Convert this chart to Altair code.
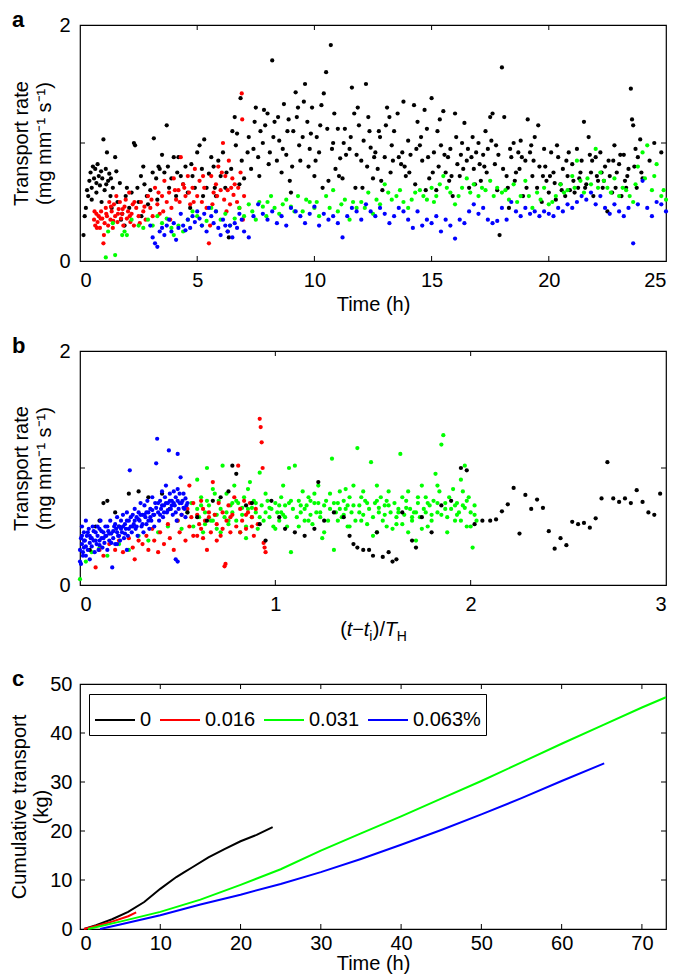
import altair as alt
import pandas as pd

FONT = "Liberation Sans, Arial"
FS = 20

SERIES = ["0", "0.016", "0.031", "0.063%"]
COLORS = ["#000000", "#ff0000", "#00ff00", "#0000ff"]
CMAP = dict(zip(SERIES, COLORS))

# ---------------- Panel a : transport rate vs time (h) ----------------
A_BLACK = [(0.15,0.22),(0.2,0.38),(0.25,0.45),(0.3,0.6),(0.35,0.55),(0.4,0.68),(0.45,0.75),(0.5,0.62),(0.55,0.8),(0.6,0.7),
(0.65,0.78),(0.7,0.66),(0.75,0.82),(0.8,0.72),(0.85,0.64),(0.9,0.76),(0.95,0.7),(1.0,1.03),(1.05,0.6),(1.1,0.78),
(1.15,0.92),(1.2,0.68),(1.25,0.74),(1.3,0.55),(1.35,0.45),(1.4,0.62),(1.5,0.88),(1.55,0.76),(1.6,0.5),(1.7,0.66),
(1.75,0.35),(1.8,0.4),(1.9,0.3),(1.95,0.55),(2.0,0.62),(2.1,0.45),(2.2,0.58),(2.3,1.0),(2.35,0.98),(2.45,0.62),
(2.5,0.5),(2.6,0.72),(2.7,0.8),(2.75,0.65),(2.85,0.55),(2.9,0.48),(3.0,0.6),(3.1,0.75),(3.15,1.04),(3.25,0.7),
(3.3,0.52),(3.4,0.78),(3.5,0.9),(3.6,0.75),(3.7,1.15),(3.75,0.8),(3.8,0.62),(3.9,0.7),(4.0,0.88),(4.1,0.55),
(4.2,0.88),(4.3,0.72),(4.4,0.65),(4.5,0.8),(4.6,0.58),(4.7,0.45),(4.8,0.72),(4.9,0.62),(5.0,0.92),(5.1,0.98),
(5.2,0.78),(5.3,1.03),(5.4,0.62),(5.5,0.74),(5.6,0.88),(5.7,0.8),(5.8,0.55),(5.9,0.85),(6.0,0.72),(6.1,0.92),
(6.2,0.62),(6.3,0.25),(6.35,0.2),(6.45,0.78),(6.5,1.1),(6.6,1.22),(6.65,0.98),(6.7,1.08),(6.8,0.65),(6.85,1.38),
(6.9,0.85),(7.0,0.7),(7.2,1.05),(7.4,0.95),(7.5,1.3),(7.6,0.88),(7.7,1.1),(7.8,1.0),(8.0,1.25),(8.1,0.92),
(8.2,1.7),(8.3,1.18),(8.5,1.02),(8.6,0.75),(8.7,1.33),(8.8,0.9),(8.9,1.2),(9.0,0.58),(9.1,1.1),(9.2,1.43),
(9.3,1.3),(9.4,0.85),(9.5,1.05),(9.6,1.5),(9.7,1.18),(9.8,0.95),(9.9,1.3),(10.0,0.72),(10.1,1.05),(10.2,0.92),
(10.3,1.32),(10.4,1.42),(10.5,1.6),(10.6,0.68),(10.7,1.83),(10.8,1.0),(10.9,0.78),(11.0,1.12),(11.1,0.87),(11.2,0.7),
(11.3,1.12),(11.5,0.95),(11.6,1.47),(11.7,1.25),(11.8,0.9),(11.9,1.15),(12.0,0.85),(12.1,1.02),(12.2,1.5),(12.3,1.22),
(12.4,0.96),(12.5,0.7),(12.6,0.92),(12.7,0.78),(12.8,1.05),(12.9,0.6),(13.0,0.88),(13.1,1.3),(13.2,1.22),(13.3,0.98),
(13.4,1.1),(13.6,0.88),(13.7,0.82),(13.8,1.35),(13.9,0.72),(14.0,1.02),(14.1,0.9),(14.3,0.65),(14.4,1.18),(14.5,0.98),
(14.6,0.85),(14.7,1.28),(14.8,1.12),(14.9,0.7),(15.0,1.38),(15.1,0.92),(15.2,0.6),(15.3,0.8),(15.4,0.98),(15.5,1.27),
(15.6,0.75),(15.7,0.88),(15.8,0.95),(15.9,0.55),(16.0,1.25),(16.1,0.82),(16.2,0.72),(16.3,1.0),(16.4,1.17),(16.5,0.85),
(16.6,0.62),(16.7,0.88),(16.8,0.78),(16.9,0.92),(17.0,1.0),(17.1,0.68),(17.2,0.9),(17.3,1.1),(17.4,0.95),(17.5,1.22),
(17.6,1.25),(17.7,0.82),(17.8,0.6),(17.9,0.22),(18.0,1.64),(18.1,1.22),(18.2,0.72),(18.3,0.45),(18.4,0.88),(18.5,1.0),
(18.6,0.75),(18.7,0.92),(18.8,1.02),(18.9,0.55),(19.0,0.85),(19.1,1.2),(19.2,0.92),(19.3,0.72),(19.4,1.05),(19.5,0.62),
(19.6,0.8),(19.7,0.5),(19.8,0.95),(19.9,0.68),(20.0,0.58),(20.1,0.92),(20.2,0.75),(20.3,0.52),(20.4,0.88),(20.5,0.65),
(20.6,0.78),(20.7,0.55),(20.8,0.72),(20.9,0.6),(21.0,0.82),(21.1,0.58),(21.2,0.95),(21.3,0.7),(21.4,0.85),(21.5,1.18),
(21.6,0.65),(21.7,1.05),(21.8,0.75),(21.9,0.55),(22.0,0.88),(22.1,0.68),(22.2,0.92),(22.3,0.62),(22.4,0.8),(22.5,0.42),
(22.6,0.72),(22.7,0.58),(22.8,0.98),(22.9,0.75),(23.0,0.82),(23.1,0.55),(23.2,0.9),(23.3,0.62),(23.4,0.78),(23.5,1.46),
(23.55,1.2),(23.6,1.15),(23.7,0.95),(23.8,0.88),(23.9,1.03),(24.0,0.7)]
A_BLACK_MORE = [(7.3,0.78),(7.9,1.15),(8.4,0.85),(8.95,0.68),(9.25,1.22),(9.75,0.8),(10.25,1.15),(10.75,0.95),(11.25,1.0),
(11.75,0.62),(12.25,0.8),(12.75,1.1),(13.25,0.75),(13.75,0.92),(14.25,1.32),(14.75,0.6),(15.25,1.1),(15.75,0.68),
(16.25,0.9),(16.75,1.05),(17.25,0.8),(17.75,0.98),(18.25,0.62),(18.75,0.78),(19.25,0.98),(19.75,0.72),(20.25,0.66),
(20.75,0.85),(21.25,0.62),(21.75,0.9),(22.25,0.75),(22.75,0.85),(23.25,0.68),(23.75,0.62),(24.5,1.0),(24.8,0.92),
(0.5,0.52),(0.7,0.58),(0.92,0.5),(1.12,0.65),(1.32,0.7),(2.62,0.38),(3.35,0.8),(4.15,0.75),(4.75,0.82),(5.25,0.55),
(5.75,0.62),(6.25,0.75)]
A_BLACK_EXTRA = [(7.15,0.92),(7.45,1.18),(7.65,0.72),(7.85,1.28),(8.05,0.82),(8.25,1.05),(8.45,1.22),(8.65,0.95),
(8.85,1.1),(9.05,0.8),(9.35,0.98),(9.55,1.35),(9.85,1.08),(10.05,0.85),(10.35,0.62),(10.55,1.12),(10.85,1.25),
(11.05,0.72),(11.35,0.9),(11.55,1.05),(11.85,1.3),(12.05,0.62),(12.35,1.1),(12.55,0.88),(12.85,0.68),(13.05,1.15),
(13.35,0.85),(13.55,1.25),(13.85,0.8),(14.05,0.75),(14.35,0.95),(14.55,1.05),(14.85,0.88),(15.05,0.75),(15.35,1.2),
(15.55,0.9),(15.85,0.72),(16.05,1.05),(16.35,0.78),(16.55,0.95),(16.85,0.65),(17.05,0.82),(17.35,0.75),(17.55,1.02),
(17.85,0.9),(18.05,0.78),(18.35,0.95),(18.55,0.68),(18.85,0.88),(19.05,0.62),(19.35,0.85),(19.55,1.15),(19.85,0.8),
(20.05,0.72),(20.35,0.98),(20.55,0.6),(20.85,0.92),(21.05,0.68),(21.35,0.75),(21.55,0.62),(21.85,0.85),(22.05,0.72),
(22.35,0.68),(22.55,0.85),(22.85,0.62),(23.05,0.9),(23.35,0.72),(23.65,0.8),(23.95,0.75),(24.3,0.85)]

A_RED = [(0.6,0.35),(0.65,0.3),(0.7,0.4),(0.75,0.33),(0.8,0.38),(0.85,0.28),(0.9,0.42),(0.95,0.36),(1.0,0.15),(1.05,0.32),
(1.1,0.45),(1.15,0.38),(1.2,0.3),(1.25,0.5),(1.3,0.35),(1.35,0.42),(1.4,0.28),(1.45,0.48),(1.5,0.38),(1.55,0.55),
(1.6,0.33),(1.65,0.44),(1.7,0.5),(1.75,0.36),(1.8,0.4),(1.85,0.3),(1.9,0.46),(1.95,0.52),(2.0,0.36),(2.05,0.42),
(2.1,0.58),(2.15,0.33),(2.2,0.4),(2.25,0.48),(2.3,0.3),(2.4,0.45),(2.5,0.38),(2.6,0.5),(2.7,0.42),(2.8,0.35),
(2.9,0.55),(3.0,0.45),(3.1,0.38),(3.2,0.62),(3.3,0.48),(3.4,0.4),(3.5,0.55),(3.6,0.68),(3.7,0.5),(3.8,0.58),
(3.85,0.35),(3.9,0.45),(4.0,0.7),(4.1,0.52),(4.2,0.6),(4.3,0.88),(4.4,0.65),(4.5,0.55),(4.6,0.72),(4.7,0.48),
(4.8,0.62),(4.9,0.78),(5.0,0.55),(5.1,0.68),(5.2,0.5),(5.3,0.62),(5.4,0.45),(5.5,0.15),(5.55,0.3),(5.6,0.72),
(5.7,0.58),(5.8,0.65),(5.9,0.8),(6.0,0.6),(6.05,0.75),(6.1,1.0),(6.15,0.52),(6.2,0.72),(6.3,0.6),(6.35,0.85),
(6.4,0.48),(6.5,0.7),(6.55,0.56),(6.6,0.65),(6.7,0.5),(6.75,0.62),(6.8,0.45),(6.85,0.75),(6.9,1.42),(6.92,1.2),
(6.95,0.35),(7.0,0.55),(0.62,0.42),(0.72,0.28),(0.88,0.36),(1.02,0.22),(1.12,0.4),(1.32,0.46),(1.42,0.34),(1.62,0.4),
(1.82,0.44),(2.12,0.38),(2.32,0.5),(2.55,0.32),(2.75,0.46),(3.05,0.52),(3.35,0.58),(3.55,0.42),(4.05,0.6),(4.25,0.5),
(4.45,0.62),(4.65,0.58),(4.85,0.5),(5.25,0.72),(5.65,0.48),(5.85,0.55),(6.25,0.42),(6.45,0.62)]

A_GREEN = [(1.1,0.03),(1.5,0.05),(1.2,0.25),(1.4,0.32),(1.8,0.22),(1.9,0.25),(2.0,0.22),(2.2,0.35),(2.5,0.3),(2.7,0.28),
(2.9,0.35),(3.1,0.3),(3.3,0.38),(3.5,0.32),(3.7,0.36),(3.9,0.28),(4.0,0.22),(4.2,0.3),(4.4,0.25),(4.6,0.35),
(4.8,0.42),(5.0,0.38),(5.2,0.3),(5.4,0.34),(5.6,0.45),(5.8,0.42),(6.0,0.35),(6.2,0.4),(6.4,0.3),(6.6,0.36),
(6.8,0.45),(7.0,0.38),(7.2,0.48),(7.5,0.35),(7.8,0.46),(8.0,0.5),(8.3,0.45),(8.5,0.4),(8.8,0.52),(9.0,0.46),
(9.3,0.55),(9.5,0.42),(9.8,0.5),(10.0,0.45),(10.2,0.38),(10.5,0.55),(10.8,0.6),(11.0,0.42),(11.3,0.52),(11.5,0.35),
(11.8,0.45),(12.0,0.5),(12.3,0.58),(12.5,0.4),(12.8,0.48),(13.0,0.65),(13.3,0.52),(13.5,0.55),(13.8,0.5),(14.0,0.45),
(14.3,0.58),(14.5,0.6),(14.8,0.52),(15.0,0.62),(15.2,0.55),(15.5,0.72),(15.8,0.58),(16.0,0.48),(16.3,0.62),(16.5,0.7),
(16.8,0.65),(17.0,0.55),(17.3,0.6),(17.5,0.68),(17.8,0.62),(18.0,0.58),(18.3,0.52),(18.5,0.65),(18.8,0.55),(19.0,0.68),
(19.3,0.45),(19.5,0.58),(19.8,0.62),(20.0,0.48),(20.3,0.55),(20.5,0.65),(20.8,0.6),(21.0,0.72),(21.2,0.85),(21.5,0.58),
(21.8,0.65),(22.0,0.95),(22.2,0.75),(22.5,0.62),(22.8,0.7),(23.0,0.55),(23.3,0.6),(23.6,0.5),(23.8,0.8),(24.0,0.92),
(24.2,0.98),(24.4,0.6),(24.6,0.82),(24.8,0.55),(25.0,0.52)]
A_GREEN_MORE = [(7.35,0.42),(7.65,0.5),(7.95,0.38),(8.15,0.55),(8.65,0.48),(9.15,0.42),(9.65,0.52),(10.1,0.5),(10.65,0.45),
(11.15,0.48),(11.65,0.5),(12.15,0.45),(12.65,0.52),(13.15,0.58),(13.65,0.6),(14.15,0.52),(14.65,0.55),(15.1,0.5),
(15.35,0.65),(15.65,0.62),(16.15,0.55),(16.65,0.58),(17.15,0.62),(17.65,0.55),(18.15,0.6),(18.65,0.5),(19.15,0.55),
(19.65,0.52),(20.15,0.5),(20.65,0.58),(21.1,0.62),(21.35,0.68),(21.65,0.7),(22.1,0.62),(22.35,0.68),(22.65,0.58),
(23.15,0.62),(23.45,0.55),(23.7,0.65),(24.1,0.7),(24.5,0.72),(24.9,0.6)]

A_BLUE = [(3.0,0.3),(3.1,0.2),(3.2,0.15),(3.3,0.12),(3.4,0.25),(3.5,0.28),(3.6,0.22),(3.7,0.3),(3.8,0.35),(3.9,0.25),
(4.0,0.32),(4.1,0.18),(4.2,0.28),(4.3,0.4),(4.4,0.3),(4.5,0.26),(4.6,0.35),(4.7,0.28),(4.8,0.38),(4.9,0.33),
(5.0,0.42),(5.1,0.36),(5.2,0.3),(5.3,0.4),(5.4,0.25),(5.5,0.45),(5.6,0.38),(5.7,0.32),(5.8,0.42),(5.9,0.28),
(6.0,0.22),(6.1,0.35),(6.2,0.3),(6.3,0.25),(6.4,0.3),(6.5,0.2),(6.6,0.32),(6.7,0.28),(6.8,0.4),(6.9,0.35),
(7.0,0.25),(7.2,0.2),(7.4,0.38),(7.6,0.48),(7.8,0.4),(8.0,0.35),(8.2,0.42),(8.4,0.32),(8.6,0.38),(8.8,0.3),
(9.0,0.45),(9.2,0.42),(9.4,0.38),(9.6,0.32),(9.8,0.4),(10.0,0.46),(10.2,0.3),(10.4,0.4),(10.6,0.35),(10.8,0.38),
(11.0,0.32),(11.2,0.2),(11.4,0.38),(11.6,0.45),(11.8,0.42),(12.0,0.35),(12.2,0.48),(12.4,0.42),(12.6,0.38),(12.8,0.45),
(13.0,0.4),(13.2,0.32),(13.4,0.38),(13.6,0.45),(13.8,0.42),(14.0,0.35),(14.2,0.28),(14.4,0.42),(14.6,0.3),(14.8,0.35),
(15.0,0.32),(15.2,0.38),(15.4,0.25),(15.6,0.35),(15.8,0.3),(16.0,0.19),(16.2,0.35),(16.4,0.32),(16.6,0.42),(16.8,0.48),
(17.0,0.4),(17.2,0.45),(17.4,0.35),(17.6,0.32),(17.8,0.34),(18.0,0.45),(18.2,0.35),(18.4,0.5),(18.6,0.42),(18.8,0.38),
(19.0,0.45),(19.2,0.4),(19.4,0.42),(19.6,0.38),(19.8,0.42),(20.0,0.4),(20.2,0.38),(20.4,0.45),(20.6,0.42),(20.8,0.48),
(21.0,0.45),(21.2,0.5),(21.4,0.55),(21.6,0.52),(21.8,0.58),(22.0,0.48),(22.2,0.55),(22.4,0.45),(22.6,0.4),(22.8,0.48),
(23.0,0.42),(23.2,0.38),(23.4,0.45),(23.6,0.15),(23.8,0.48),(24.0,0.68),(24.2,0.45),(24.4,0.38),(24.6,0.5),(24.8,0.48),
(25.0,0.42)]

# ---------------- Panel b : transport rate vs (t - ti)/T_H ----------------
B_BLUE = [(0.0,0.3),(0.0,0.2),(0.005,0.4),(0.005,0.18),(0.01,0.35),(0.01,0.5),(0.015,0.28),(0.015,0.25),(0.02,0.45),(0.02,0.32),
(0.025,0.38),(0.03,0.25),(0.03,0.55),(0.035,0.42),(0.04,0.3),(0.045,0.48),(0.05,0.36),(0.05,0.22),(0.055,0.4),(0.06,0.33),
(0.065,0.5),(0.07,0.38),(0.075,0.28),(0.08,0.45),(0.085,0.35),(0.09,0.42),(0.095,0.3),(0.1,0.48),(0.1,0.38),(0.105,0.55),
(0.11,0.4),(0.115,0.32),(0.12,0.45),(0.125,0.36),(0.13,0.5),(0.135,0.42),(0.14,0.3),(0.145,0.46),(0.15,0.38),(0.155,0.55),
(0.16,0.44),(0.165,0.15),(0.17,0.4),(0.175,0.5),(0.18,0.35),(0.185,0.48),(0.19,0.58),(0.195,0.42),(0.2,0.5),(0.205,0.38),
(0.21,0.55),(0.215,0.45),(0.22,0.6),(0.225,0.4),(0.23,0.52),(0.235,0.48),(0.24,0.62),(0.245,0.42),(0.25,0.55),(0.255,0.98),
(0.26,0.5),(0.265,0.45),(0.27,0.6),(0.275,0.52),(0.28,0.65),(0.285,0.48),(0.29,0.58),(0.295,0.42),(0.3,0.62),(0.305,0.55),
(0.31,0.7),(0.315,0.5),(0.32,0.6),(0.325,0.45),(0.33,0.68),(0.335,0.58),(0.34,0.52),(0.345,0.72),(0.35,0.62),(0.355,0.48),
(0.36,0.65),(0.365,0.55),(0.37,0.75),(0.375,0.6),(0.38,0.5),(0.385,0.7),(0.39,1.04),(0.395,1.25),(0.4,0.62),(0.405,0.55),
(0.41,0.72),(0.415,0.65),(0.42,0.8),(0.425,0.58),(0.43,0.68),(0.435,0.75),(0.44,0.85),(0.445,0.62),(0.45,0.7),(0.455,1.15),
(0.46,0.78),(0.465,0.65),(0.47,0.72),(0.475,0.6),(0.48,0.8),(0.485,0.68),(0.49,0.75),(0.495,0.55),(0.5,0.82),(0.5,1.12),
(0.505,0.65),(0.51,0.7),(0.515,0.92),(0.52,0.6),(0.525,0.72),(0.53,0.78),(0.535,0.65),(0.54,0.58),(0.545,0.68),(0.5,0.2),
(0.49,0.22),(0.19,0.35),(0.24,0.3)]
B_BLUE_MORE = [(0.01,0.42),(0.02,0.38),(0.03,0.33),(0.04,0.45),(0.05,0.42),(0.06,0.4),(0.07,0.46),(0.08,0.38),(0.09,0.5),
(0.1,0.34),(0.11,0.46),(0.12,0.4),(0.13,0.42),(0.14,0.5),(0.15,0.44),(0.16,0.36),(0.17,0.46),(0.18,0.52),(0.19,0.45),
(0.2,0.42),(0.21,0.48),(0.22,0.5),(0.23,0.44),(0.24,0.55),(0.25,0.48),(0.26,0.58),(0.27,0.5),(0.28,0.55),(0.29,0.5),
(0.3,0.56),(0.31,0.6),(0.32,0.52),(0.33,0.6),(0.34,0.62),(0.35,0.55),(0.36,0.58),(0.37,0.64),(0.38,0.6),(0.39,0.66),
(0.4,0.7),(0.41,0.6),(0.42,0.68),(0.43,0.62),(0.44,0.7),(0.45,0.64),(0.46,0.72),(0.47,0.68),(0.48,0.7),(0.49,0.62),
(0.5,0.72),(0.51,0.78),(0.52,0.7),(0.53,0.66),(0.54,0.74),(0.55,0.7)]

B_RED = [(0.08,0.15),(0.1,0.3),(0.12,0.25),(0.15,0.35),(0.18,0.3),(0.2,0.38),(0.22,0.28),(0.25,0.4),(0.27,0.32),(0.28,0.22),
(0.3,0.38),(0.32,0.35),(0.34,0.42),(0.35,0.3),(0.37,0.48),(0.38,0.38),(0.4,0.28),(0.41,0.45),(0.43,0.35),(0.45,0.52),
(0.46,0.4),(0.48,0.3),(0.5,0.55),(0.51,0.45),(0.52,0.6),(0.54,0.38),(0.55,0.65),(0.56,0.5),(0.57,0.58),(0.58,0.42),
(0.6,0.6),(0.61,0.52),(0.62,0.48),(0.63,0.65),(0.64,0.55),(0.65,0.3),(0.66,0.58),(0.67,0.45),(0.68,0.88),(0.69,0.6),
(0.7,0.52),(0.71,0.7),(0.72,0.42),(0.73,0.62),(0.74,0.16),(0.745,0.18),(0.75,0.55),(0.76,0.68),(0.77,0.45),(0.78,0.6),
(0.79,0.75),(0.8,0.5),(0.81,1.02),(0.82,0.65),(0.83,0.55),(0.84,0.72),(0.85,0.48),(0.86,0.62),(0.87,0.7),(0.88,0.58),
(0.89,0.42),(0.9,0.65),(0.91,0.52),(0.92,1.42),(0.925,1.35),(0.93,1.22),(0.935,1.0),(0.94,0.36),(0.95,0.28),(0.945,0.32),
(0.6,0.42),(0.63,0.4),(0.66,0.62),(0.7,0.38),(0.73,0.48),(0.77,0.58),(0.82,0.45),(0.85,0.6),(0.88,0.5),(0.56,0.85),
(0.58,0.7),(0.62,0.72)]

B_GREEN = [(0.0,0.05),(0.03,0.2),(0.06,0.28),(0.1,0.32),(0.14,0.25),(0.2,0.35),(0.25,0.3),(0.3,0.42),(0.35,0.38),(0.4,0.45),
(0.45,0.5),(0.5,0.55),(0.52,0.48),(0.55,0.62),(0.57,0.7),(0.58,0.5),(0.6,0.9),(0.61,0.58),(0.62,0.75),(0.63,0.45),
(0.64,0.62),(0.65,1.0),(0.66,0.68),(0.67,0.55),(0.68,0.82),(0.69,0.6),(0.7,0.48),(0.71,0.72),(0.72,0.65),(0.73,1.02),
(0.74,0.58),(0.75,0.78),(0.76,0.52),(0.77,0.68),(0.78,0.62),(0.79,0.85),(0.8,0.55),(0.81,0.7),(0.82,0.45),(0.83,0.6),
(0.84,0.75),(0.85,0.5),(0.86,0.65),(0.87,0.88),(0.88,0.58),(0.89,0.72),(0.9,0.62),(0.91,0.48),(0.92,0.96),(0.93,0.68),
(0.94,0.55),(0.95,0.62),(0.96,0.72),(0.97,0.58),(0.98,0.65),(0.99,0.5),(1.0,0.7),(1.01,0.62),(1.02,0.55),(1.03,0.75),
(1.04,0.6),(1.05,0.68),(1.06,0.5),(1.07,1.0),(1.08,0.28),(1.09,0.65),(1.1,1.02),(1.11,0.58),(1.12,0.72),(1.13,0.62),
(1.14,0.8),(1.15,0.55),(1.16,0.68),(1.17,0.75),(1.18,0.6),(1.19,0.52),(1.2,0.7),(1.21,0.62),(1.22,0.85),(1.23,0.58),
(1.24,0.4),(1.25,0.68),(1.26,0.72),(1.27,0.55),(1.28,0.65),(1.29,1.08),(1.3,0.3),(1.31,0.62),(1.32,0.7),(1.33,0.8),
(1.34,0.58),(1.35,0.72),(1.36,0.65),(1.37,0.5),(1.38,0.75),(1.39,0.62),(1.4,0.85),(1.41,0.55),(1.42,1.17),(1.43,0.68),
(1.44,0.75),(1.45,0.6),(1.46,0.72),(1.47,0.52),(1.48,0.65),(1.49,1.05),(1.5,0.58),(1.51,0.7),(1.52,0.45),(1.53,0.62),
(1.54,0.75),(1.55,0.55),(1.56,0.68),(1.57,0.5),(1.58,0.8),(1.59,0.62),(1.6,0.48),(1.61,0.7),(1.62,0.58),(1.63,0.65),
(1.64,1.12),(1.65,0.52),(1.66,0.6),(1.67,0.72),(1.68,0.45),(1.69,0.65),(1.7,0.55),(1.71,0.62),(1.72,0.38),(1.73,0.7),
(1.74,0.58),(1.75,0.85),(1.76,0.65),(1.77,0.75),(1.78,0.5),(1.79,0.68),(1.8,0.6),(1.81,0.72),(1.82,0.95),(1.83,0.62),
(1.84,0.8),(1.85,1.2),(1.86,1.28),(1.87,0.7),(1.88,0.58),(1.89,0.75),(1.9,0.65),(1.91,0.82),(1.92,0.55),(1.93,0.7),
(1.94,0.62),(1.95,0.9),(1.96,0.68),(1.97,1.02),(1.98,0.5),(1.99,0.75),(2.0,0.62),(2.01,0.32),(2.02,0.68),(2.03,0.55),
(0.62,0.68),(0.68,0.55),(0.75,0.62),(0.8,0.72),(0.88,0.66),(0.95,0.78),(1.02,0.68),(1.08,0.72),(1.15,0.65),(1.22,0.7),
(1.28,0.78),(1.35,0.6),(1.4,0.68),(1.45,0.8),(1.52,0.72),(1.58,0.68),(1.65,0.75),(1.72,0.62),(1.78,0.7),(1.85,0.6),
(1.92,0.68),(1.98,0.72),(0.72,0.45),(0.85,0.4),(1.0,0.48),(1.12,0.5),(1.25,0.45),(1.38,0.5),(1.5,0.42),(1.62,0.52),
(1.75,0.48),(1.88,0.45),(2.0,0.5)]
B_GREEN_MORE = [(0.6,0.65),(0.65,0.72),(0.7,0.6),(0.78,0.7),(0.83,0.66),(0.9,0.7),(0.97,0.66),(1.03,0.62),(1.07,0.7),
(1.13,0.68),(1.18,0.72),(1.23,0.62),(1.3,0.7),(1.33,0.65),(1.37,0.68),(1.43,0.62),(1.47,0.7),(1.53,0.66),(1.57,0.72),
(1.63,0.62),(1.67,0.66),(1.73,0.75),(1.77,0.62),(1.83,0.7),(1.87,0.65),(1.93,0.6),(1.97,0.66),(2.02,0.6),(0.64,0.52),
(0.76,0.55),(0.92,0.58),(1.05,0.58),(1.17,0.55),(1.32,0.55),(1.44,0.55),(1.56,0.6),(1.7,0.58),(1.8,0.55),(1.95,0.55),
(0.69,0.78),(0.86,0.82),(1.04,0.85),(1.2,0.78),(1.36,0.82),(1.52,0.85),(1.68,0.8),(1.83,0.85),(1.96,0.8)]

B_BLACK = [(0.05,0.3),(0.08,0.5),(0.1,0.55),(0.12,0.7),(0.14,0.72),(0.18,0.62),(0.2,0.5),(0.25,0.78),(0.3,0.8),(0.35,0.75),
(0.42,0.78),(0.46,0.65),(0.55,0.62),(0.6,0.58),(0.65,0.55),(0.68,0.72),(0.72,0.75),(0.76,0.8),(0.78,1.02),(0.8,0.95),
(0.85,0.68),(0.88,0.7),(0.92,0.52),(0.95,0.38),(0.98,0.72),(1.02,0.58),(1.05,0.48),(1.1,0.45),(1.15,0.42),(1.2,0.48),
(1.22,0.88),(1.25,0.55),(1.3,0.62),(1.35,0.58),(1.38,0.42),(1.4,0.35),(1.42,0.32),(1.45,0.3),(1.48,0.3),(1.5,0.25),
(1.52,0.45),(1.55,0.24),(1.58,0.28),(1.6,0.2),(1.62,0.22),(1.65,0.62),(1.7,0.38),(1.72,0.32),(1.75,0.58),(1.8,0.45),
(1.85,0.68),(1.9,0.72),(1.95,1.0),(1.98,0.98),(2.02,0.52),(2.06,0.55),(2.1,0.55),(2.13,0.56),(2.16,0.63),(2.19,0.69),
(2.22,0.83),(2.25,0.44),(2.28,0.77),(2.31,0.65),(2.34,0.73),(2.37,0.66),(2.4,0.46),(2.43,0.31),(2.46,0.4),(2.49,0.34),
(2.52,0.54),(2.55,0.52),(2.58,0.53),(2.61,0.49),(2.64,0.57),(2.67,0.74),(2.7,1.05),(2.73,0.74),(2.76,0.71),(2.79,0.74),
(2.82,0.7),(2.85,0.81),(2.88,0.71),(2.91,0.62),(2.94,0.6),(2.97,0.78)]

# ---------------- Panel c : cumulative transport (kg) ----------------
C_BLACK_T = [0.5, 2, 4, 6, 8, 10, 12, 13, 14, 16, 18, 20, 22, 24]
C_BLACK_Y = [0.0, 0.8, 2.0, 3.5, 5.5, 8.2, 10.6, 11.6, 12.6, 14.6, 16.3, 17.9, 19.2, 20.8]
C_RED_T = [0.5, 2, 4, 6, 7]
C_RED_Y = [0.0, 0.6, 1.5, 2.6, 3.4]
C_GREEN_T = [1, 5, 10, 15, 20, 25, 30, 35, 40, 45, 50, 55, 60, 65, 70, 73]
C_GREEN_Y = [0.0, 1.5, 3.5, 6.0, 9.0, 12.2, 16.0, 19.5, 23.0, 26.6, 30.2, 34.0, 37.8, 41.5, 45.2, 47.3]
C_BLUE_T = [2.5, 5, 10, 15, 20, 25, 30, 35, 40, 45, 50, 55, 60, 65.3]
C_BLUE_Y = [0.0, 0.9, 2.8, 5.0, 7.0, 9.2, 11.6, 14.3, 17.2, 20.2, 23.4, 26.7, 30.2, 33.8]

W = 586
HA, HB, HC = 236, 234, 245
GAP1, GAP2 = 90, 99


def scatter_frame(groups):
    rows = []
    for name, pts in groups:
        for x, y in pts:
            rows.append({"x": x, "y": y, "c": CMAP[name]})
    df = pd.DataFrame(rows)
    df["o"] = range(len(df))
    return df


def inner_ticks(xvals, yvals, xscale, yscale, xaxis, yaxis, w, h, L=5):
    xt = pd.DataFrame({"x": xvals})
    yt = pd.DataFrame({"y": yvals})
    rule = dict(color="black", strokeWidth=1)
    bx = alt.Chart(xt).mark_rule(**rule).encode(
        x=alt.X("x:Q", scale=xscale, axis=xaxis), y=alt.value(h), y2=alt.value(h - L))
    tx = alt.Chart(xt).mark_rule(**rule).encode(
        x=alt.X("x:Q", scale=xscale, axis=xaxis), y=alt.value(0), y2=alt.value(L))
    ly = alt.Chart(yt).mark_rule(**rule).encode(
        y=alt.Y("y:Q", scale=yscale, axis=yaxis), x=alt.value(0), x2=alt.value(L))
    ry = alt.Chart(yt).mark_rule(**rule).encode(
        y=alt.Y("y:Q", scale=yscale, axis=yaxis), x=alt.value(w), x2=alt.value(w - L))
    return [bx, tx, ly, ry]


def panel_label(txt):
    return alt.Chart(pd.DataFrame({"l": [txt]})).mark_text(
        font="Liberation Sans", fontSize=22, fontWeight="bold", align="left", baseline="top"
    ).encode(x=alt.value(-68), y=alt.value(-15), text="l:N")


def axis_x(title, values, lp=9, tp=4):
    return alt.Axis(values=values, title=title, ticks=False, domain=False, grid=False,
                    labelPadding=lp, titlePadding=tp, format="d")


def axis_y(title, values, tx=-49, lp=10, lh=23):
    return alt.Axis(values=values, title=title, ticks=False, domain=False, grid=False,
                    labelPadding=lp, titleX=tx, titleBaseline="bottom", titleLineHeight=lh,
                    format="d")


ytitle = ["Transport rate", "(mg mm\u207b\u00b9 s\u207b\u00b9)"]

# ---- panel a
dfa = scatter_frame([("0", A_BLACK), ("0", A_BLACK_MORE), ("0", A_BLACK_EXTRA), ("0.016", A_RED),
                     ("0.031", A_GREEN), ("0.031", A_GREEN_MORE), ("0.063%", A_BLUE)])
sxa = alt.Scale(domain=[0, 25], nice=False, zero=False)
sya = alt.Scale(domain=[0, 2], nice=False, zero=False)
axa = axis_x("Time (h)", [0, 5, 10, 15, 20, 25])
aya = axis_y(ytitle, [0, 1, 2])
pa = alt.Chart(dfa).mark_circle(size=18, opacity=1).encode(
    x=alt.X("x:Q", scale=sxa, axis=axa),
    y=alt.Y("y:Q", scale=sya, axis=aya),
    color=alt.Color("c:N", scale=None),
    order="o:Q",
)
chart_a = alt.layer(pa, *inner_ticks([5, 10, 15, 20], [1], sxa, sya, axa, aya, W, HA),
                    panel_label("a")).properties(width=W, height=HA)

# ---- panel b
dfb = scatter_frame([("0.031", B_GREEN), ("0.031", B_GREEN_MORE), ("0.016", B_RED), ("0", B_BLACK),
                     ("0.063%", B_BLUE), ("0.063%", B_BLUE_MORE)])
sxb = alt.Scale(domain=[0, 3], nice=False, zero=False)
syb = alt.Scale(domain=[0, 2], nice=False, zero=False)
axb = alt.Axis(values=[0, 1, 2, 3], title=None, ticks=False, domain=False,
               grid=False, labelPadding=9, format="d")
ayb = axis_y(ytitle, [0, 1, 2])
pb = alt.Chart(dfb).mark_circle(size=18, opacity=1).encode(
    x=alt.X("x:Q", scale=sxb, axis=axb),
    y=alt.Y("y:Q", scale=syb, axis=ayb),
    color=alt.Color("c:N", scale=None),
    order="o:Q",
)

# x-axis title of panel b: (t−t_i)/T_H with italics and subscripts
pieces = [("(", "normal", FS, 0), ("t", "italic", FS, 0), ("\u2212", "normal", FS, 0),
          ("t", "italic", FS, 0), ("i", "normal", 14, 5), (")/", "normal", FS, 0),
          ("T", "italic", FS, 0), ("H", "normal", 14, 5)]
widths = [6.5, 5.5, 11.5, 5.5, 3.5, 12.0, 12.0, 9.0]
x0 = W / 2 - sum(widths) / 2
title_layers = []
one = pd.DataFrame({"k": [0]})
for (txt, style, fs, dy), wdt in zip(pieces, widths):
    title_layers.append(
        alt.Chart(one).mark_text(text=txt, font=FONT, fontSize=fs, fontStyle=style,
                                 align="left", baseline="alphabetic", dy=dy)
        .encode(x=alt.value(x0), y=alt.value(HB + 51))
    )
    x0 += wdt

chart_b = alt.layer(pb, *inner_ticks([1, 2], [1], sxb, syb, axb, ayb, W, HB),
                    *title_layers, panel_label("b")).properties(width=W, height=HB)

# ---- panel c
rows = []
for name, ts, ys in [("0", C_BLACK_T, C_BLACK_Y), ("0.016", C_RED_T, C_RED_Y),
                     ("0.031", C_GREEN_T, C_GREEN_Y), ("0.063%", C_BLUE_T, C_BLUE_Y)]:
    for t, y in zip(ts, ys):
        rows.append({"x": t, "y": y, "s": name})
dfc = pd.DataFrame(rows)
sxc = alt.Scale(domain=[0, 73], nice=False, zero=False)
syc = alt.Scale(domain=[0, 50], nice=False, zero=False)
axc = axis_x("Time (h)", [0, 10, 20, 30, 40, 50, 60, 70], lp=4, tp=0)
ayc = axis_y(["Cumulative transport", "(kg)"], [0, 10, 20, 30, 40, 50], tx=-51, lp=8, lh=22)
c_top = HA + GAP1 + HB + GAP2
pc = alt.Chart(dfc).mark_line(strokeWidth=2).encode(
    x=alt.X("x:Q", scale=sxc, axis=axc),
    y=alt.Y("y:Q", scale=syc, axis=ayc),
    color=alt.Color("s:N", scale=alt.Scale(domain=SERIES, range=COLORS), sort=SERIES,
                    legend=alt.Legend(title=None, orient="none", legendX=9, legendY=c_top + 10,
                                      direction="horizontal", symbolType="stroke",
                                      symbolSize=1600, symbolStrokeWidth=2,
                                      labelFontSize=FS, labelFont=FONT, labelColor="black",
                                      strokeColor="black", fillColor="white",
                                      padding=5, columnPadding=4, labelOffset=4)),
)
chart_c = alt.layer(pc, *inner_ticks([10, 20, 30, 40, 50, 60, 70], [10, 20, 30, 40], sxc, syc, axc, ayc, W, HC),
                    panel_label("c")).properties(width=W, height=HC)

chart = alt.vconcat(
    chart_a,
    alt.vconcat(chart_b, chart_c, spacing=GAP2, bounds="flush"),
    spacing=GAP1, bounds="flush",
).properties(
    padding={"left": 0, "top": 0, "right": 0, "bottom": 0}
).configure_view(stroke="black", strokeWidth=1.2).configure_axis(
    labelFont=FONT, titleFont=FONT, labelFontSize=FS, titleFontSize=FS,
    titleFontWeight="normal", labelColor="black", titleColor="black",
)

chart.save("out.html", embed_options={"renderer": "svg", "actions": False})
